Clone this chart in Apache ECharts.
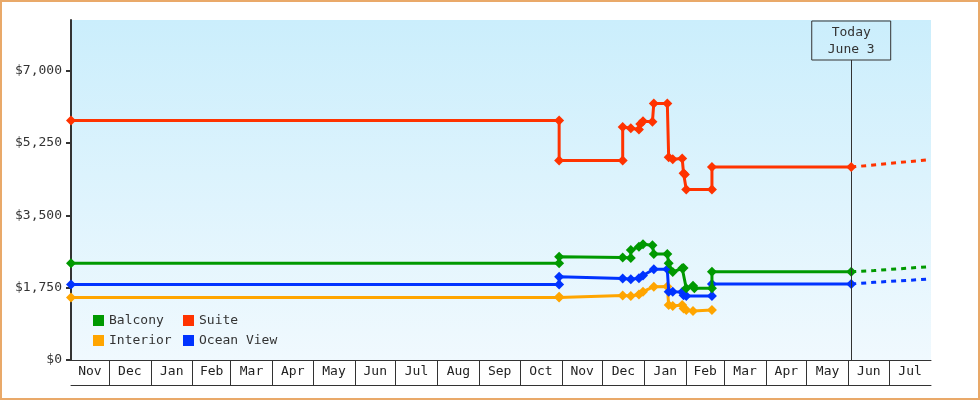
<!DOCTYPE html>
<html>
<head>
<meta charset="utf-8">
<script src="https://cdn.jsdelivr.net/npm/echarts@6/dist/echarts.min.js"></script>
<style>
  html, body { margin: 0; padding: 0; background: #fff; }
  #chart { width: 980px; height: 400px; box-sizing: border-box; border: 2px solid #e9a969; }
</style>
</head>
<body>
<div id="chart"></div>
<script>
const FONT = '"DejaVu Sans Mono", monospace'

// time range and labels
const axisStart = '2021-11-03'
const axisEnd = '2023-08-01'
const today = '2023-06-03'
const todayLabel = 'Today\nJune 3'
const monthLabels = ['Nov', 'Dec', 'Jan', 'Feb', 'Mar', 'Apr', 'May', 'Jun', 'Jul', 'Aug', 'Sep',
  'Oct', 'Nov', 'Dec', 'Jan', 'Feb', 'Mar', 'Apr', 'May', 'Jun', 'Jul']
const priceTicks = [0, 1750, 3500, 5250, 7000]
const priceMax = 8230

// price history [date, price]
const balcony = [
  ['2021-11-03', 2340], ['2022-10-30', 2340], ['2022-10-30', 2500], ['2022-12-16', 2480],
  ['2022-12-22', 2470], ['2022-12-22', 2660], ['2022-12-28', 2740], ['2022-12-31', 2800],
  ['2023-01-07', 2780], ['2023-01-08', 2565], ['2023-01-18', 2565], ['2023-01-19', 2340],
  ['2023-01-22', 2130], ['2023-01-29', 2220], ['2023-01-30', 2225], ['2023-02-01', 1735],
  ['2023-02-06', 1800], ['2023-02-07', 1735], ['2023-02-20', 1735], ['2023-02-20', 2135],
  ['2023-06-03', 2135]
]
const suite = [
  ['2021-11-03', 5800], ['2022-10-30', 5800], ['2022-10-30', 4830], ['2022-12-16', 4830],
  ['2022-12-16', 5640], ['2022-12-22', 5610], ['2022-12-28', 5580], ['2022-12-29', 5710],
  ['2022-12-31', 5780], ['2023-01-07', 5770], ['2023-01-08', 6210], ['2023-01-18', 6210],
  ['2023-01-19', 4910], ['2023-01-22', 4860], ['2023-01-29', 4880], ['2023-01-30', 4520],
  ['2023-01-31', 4490], ['2023-02-01', 4130], ['2023-02-20', 4130], ['2023-02-20', 4670],
  ['2023-06-03', 4670]
]
const interior = [
  ['2021-11-03', 1510], ['2022-10-30', 1510], ['2022-10-30', 1530], ['2022-12-16', 1560],
  ['2022-12-22', 1550], ['2022-12-28', 1585], ['2022-12-31', 1655], ['2023-01-08', 1775],
  ['2023-01-18', 1780], ['2023-01-19', 1330], ['2023-01-22', 1305], ['2023-01-29', 1330],
  ['2023-01-30', 1245], ['2023-02-01', 1210], ['2023-02-06', 1185], ['2023-02-20', 1210]
]
const oceanView = [
  ['2021-11-03', 1830], ['2022-10-30', 1830], ['2022-10-30', 2015], ['2022-12-16', 1975],
  ['2022-12-22', 1955], ['2022-12-28', 1980], ['2022-12-31', 2045], ['2023-01-08', 2195],
  ['2023-01-18', 2195], ['2023-01-19', 1655], ['2023-01-22', 1650], ['2023-01-29', 1645],
  ['2023-01-30', 1565], ['2023-02-01', 1550], ['2023-02-20', 1550], ['2023-02-20', 1840],
  ['2023-06-03', 1840]
]

// forecast after today
const balconyForecast = [['2023-06-03', 2135], ['2023-06-20', 2165], ['2023-07-31', 2260]]
const suiteForecast = [['2023-06-03', 4670], ['2023-07-31', 4850]]
const oceanViewForecast = [['2023-06-03', 1840], ['2023-06-20', 1880], ['2023-07-31', 1960]]

const colors = { Balcony: '#009900', Suite: '#ff3300', Interior: '#ffa500', 'Ocean View': '#0033ff' }

const t = (s) => Date.parse(s)
const toPoints = (arr) => arr.map((d) => [t(d[0]), d[1]])

// month cells: boundaries on the 1st of each month, labels in the middle
const startDate = new Date(t(axisStart))
const edges = [t(axisStart)]
for (let i = 1; i < monthLabels.length; i++) {
  edges.push(Date.UTC(startDate.getUTCFullYear(), startDate.getUTCMonth() + i, 1))
}
edges.push(t(axisEnd))
const boundaries = edges.slice(1, -1)
const mids = []
const labelAt = {}
for (let i = 0; i < monthLabels.length; i++) {
  const m = Math.round((edges[i] + edges[i + 1]) / 2)
  mids.push(m)
  labelAt[m] = monthLabels[i]
}

const textStyle = { fontFamily: FONT, fontSize: 13, color: '#333' }

function mainSeries(name, data, z) {
  return {
    name: name,
    type: 'line',
    data: toPoints(data),
    z: z,
    color: colors[name],
    symbol: 'diamond',
    symbolSize: 10,
    showSymbol: true,
    lineStyle: { width: 3, color: colors[name] },
    itemStyle: { color: colors[name] }
  }
}
function forecastSeries(name, data) {
  return {
    name: name,
    type: 'line',
    data: toPoints(data),
    color: colors[name],
    showSymbol: false,
    lineStyle: { width: 3, type: [5, 5], color: colors[name] }
  }
}

const suiteMain = mainSeries('Suite', suite, 5)
suiteMain.markLine = {
  silent: true,
  symbol: 'none',
  animation: false,
  lineStyle: { color: '#333', width: 1, type: 'solid' },
  label: {
    show: true,
    position: 'end',
    distance: 0,
    formatter: todayLabel,
    fontFamily: FONT,
    fontSize: 13,
    color: '#333',
    lineHeight: 17,
    align: 'center',
    padding: [3, 16, 2, 16],
    borderColor: '#333',
    borderWidth: 1
  },
  data: [[{ coord: [t(today), 0] }, { coord: [t(today), priceMax * 300 / 340] }]]
}

const legendBase = {
  orient: 'vertical',
  top: 307,
  icon: 'rect',
  itemWidth: 11,
  itemHeight: 11,
  itemGap: 7,
  selectedMode: false,
  textStyle: textStyle
}

var myChart = echarts.init(document.getElementById('chart'))
var option = {
  animation: false,
  textStyle: textStyle,
  grid: {
    left: 69,
    top: 18,
    right: 47,
    bottom: 38,
    show: true,
    borderWidth: 0,
    backgroundColor: new echarts.graphic.LinearGradient(0, 0, 0, 1, [
      { offset: 0, color: '#cbeefc' },
      { offset: 1, color: '#f0f9fe' }
    ])
  },
  legend: [
    Object.assign({}, legendBase, { data: ['Balcony', 'Interior'], left: 86 }),
    Object.assign({}, legendBase, { data: ['Suite', 'Ocean View'], left: 176 })
  ],
  xAxis: [
    {
      type: 'value',
      min: t(axisStart),
      max: t(axisEnd),
      position: 'bottom',
      axisLine: { show: true, lineStyle: { color: '#333', width: 1 } },
      axisTick: { show: true, length: 25, customValues: boundaries, lineStyle: { color: '#333', width: 1 } },
      axisLabel: {
        show: true,
        customValues: mids,
        margin: 5,
        fontFamily: FONT,
        fontSize: 13,
        color: '#222',
        formatter: (v) => labelAt[Math.round(v)] || ''
      },
      splitLine: { show: false }
    },
    {
      type: 'value',
      min: 0,
      max: 1,
      position: 'bottom',
      offset: 25,
      axisLine: { show: true, lineStyle: { color: '#333', width: 1 } },
      axisTick: { show: false },
      axisLabel: { show: false },
      splitLine: { show: false }
    }
  ],
  yAxis: {
    type: 'value',
    min: 0,
    max: priceMax,
    axisLine: { show: true, lineStyle: { color: '#333', width: 2 } },
    axisTick: { show: true, length: 5, customValues: priceTicks, lineStyle: { color: '#333', width: 2 } },
    axisLabel: {
      customValues: priceTicks,
      margin: 9,
      fontFamily: FONT,
      fontSize: 13,
      color: '#333',
      formatter: (v) => '$' + v.toLocaleString('en-US')
    },
    splitLine: { show: false }
  },
  series: [
    mainSeries('Interior', interior, 2),
    mainSeries('Ocean View', oceanView, 3),
    mainSeries('Balcony', balcony, 4),
    suiteMain,
    forecastSeries('Balcony', balconyForecast),
    forecastSeries('Suite', suiteForecast),
    forecastSeries('Ocean View', oceanViewForecast)
  ]
}
myChart.setOption(option)
</script>
</body>
</html>
